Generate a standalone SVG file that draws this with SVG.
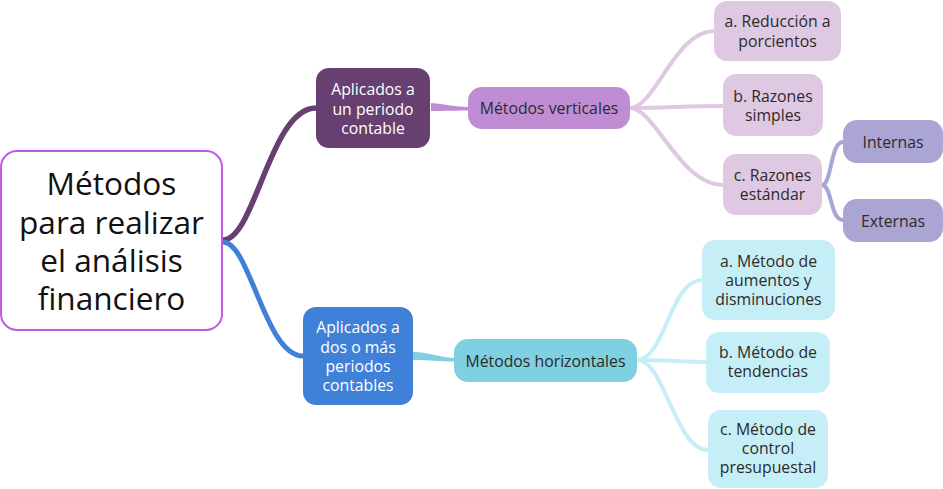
<svg xmlns="http://www.w3.org/2000/svg" width="943" height="489" viewBox="0 0 943 489">
<style>
text{font-family:"Open Sans","Noto Sans","Liberation Sans",sans-serif;font-size:15.8px;fill:#2b2b2b;text-anchor:middle}
.w{fill:#fff}
.root{font-size:31.6px;fill:#111}
.c{fill:none;stroke-linecap:round}
</style>
<rect width="943" height="489" fill="#fff"/>
<g id="connectors">
<path class="c" d="M223,240 C255,240 270,108 316,108" stroke="#673f70" stroke-width="5.5"/>
<path class="c" d="M223,242 C250,242 265,356 303,356" stroke="#3f81d8" stroke-width="5"/>
<path d="M431,103 C445,104 455,107 470,107 L470,110.5 C455,110.5 445,111 431,111 Z" fill="#c08dd5"/>
<path d="M413,352 C430,352 440,358 455,358 L455,361.5 C440,361.5 430,360 413,360 Z" fill="#7fd0e0"/>
<g stroke="#dfc8e2" class="c" stroke-width="4">
<path d="M630,108 C655,108 675,31 714,31"/>
<path d="M630,108 C660,108 690,106 723,106"/>
<path d="M630,108 C655,108 680,185 723,185"/>
</g>
<g stroke="#aba5d3" class="c" stroke-width="4">
<path d="M822,185 C832,185 830,142 843,142"/>
<path d="M822,185 C832,185 830,220 843,220"/>
</g>
<g stroke="#c6eef6" class="c" stroke-width="4">
<path d="M637,360 C665,360 670,280 702,280"/>
<path d="M637,360 C665,360 685,362 706,362"/>
<path d="M637,360 C665,360 675,450 708,450"/>
</g>
</g>
<g id="root">
<rect x="1" y="151" width="221" height="179" rx="16" fill="#fff" stroke="#bf5be6" stroke-width="2"/>
<text class="root" x="111.5" y="195">Métodos</text>
<text class="root" x="111.5" y="234">para realizar</text>
<text class="root" x="111.5" y="272">el análisis</text>
<text class="root" x="111.5" y="310">financiero</text>
</g>
<g id="n-aplicados-un">
<rect x="316" y="68" width="114" height="80" rx="13" fill="#673f70"/>
<text class="w" x="373" y="95">Aplicados a</text>
<text class="w" x="373" y="114.5">un periodo</text>
<text class="w" x="373" y="134">contable</text>
</g>
<g id="n-aplicados-dos">
<rect x="303" y="307" width="110" height="98" rx="13" fill="#3f81d8"/>
<text class="w" x="358" y="333">Aplicados a</text>
<text class="w" x="358" y="352.5">dos o más</text>
<text class="w" x="358" y="372">periodos</text>
<text class="w" x="358" y="391">contables</text>
</g>
<g id="n-verticales">
<rect x="468" y="87" width="162" height="42" rx="14" fill="#c08dd5"/>
<text x="549" y="114">Métodos verticales</text>
</g>
<g id="n-va">
<rect x="714" y="1" width="127" height="60" rx="13" fill="#dfc8e2"/>
<text x="777.5" y="27">a. Reducción a</text>
<text x="777.5" y="47">porcientos</text>
</g>
<g id="n-vb">
<rect x="723" y="74" width="100" height="62" rx="13" fill="#dfc8e2"/>
<text x="773" y="102">b. Razones</text>
<text x="773" y="121">simples</text>
</g>
<g id="n-vc">
<rect x="723" y="154" width="99" height="61" rx="13" fill="#dfc8e2"/>
<text x="772.5" y="181">c. Razones</text>
<text x="772.5" y="200">estándar</text>
</g>
<g id="n-internas">
<rect x="843" y="120" width="100" height="43" rx="14" fill="#aba5d3"/>
<text x="893" y="148">Internas</text>
</g>
<g id="n-externas">
<rect x="843" y="199" width="100" height="43" rx="14" fill="#aba5d3"/>
<text x="893" y="227">Externas</text>
</g>
<g id="n-horizontales">
<rect x="454" y="339" width="183" height="43" rx="14" fill="#7fd0e0"/>
<text x="545.5" y="367">Métodos horizontales</text>
</g>
<g id="n-ha">
<rect x="702" y="240" width="133" height="80" rx="13" fill="#c6eef6"/>
<text x="768.5" y="267">a. Método de</text>
<text x="768.5" y="286">aumentos y</text>
<text x="768.5" y="305">disminuciones</text>
</g>
<g id="n-hb">
<rect x="706" y="332" width="124" height="61" rx="13" fill="#c6eef6"/>
<text x="768" y="358">b. Método de</text>
<text x="768" y="377">tendencias</text>
</g>
<g id="n-hc">
<rect x="708" y="410" width="120" height="78" rx="13" fill="#c6eef6"/>
<text x="768" y="435">c. Método de</text>
<text x="768" y="454">control</text>
<text x="768" y="473">presupuestal</text>
</g>
</svg>
